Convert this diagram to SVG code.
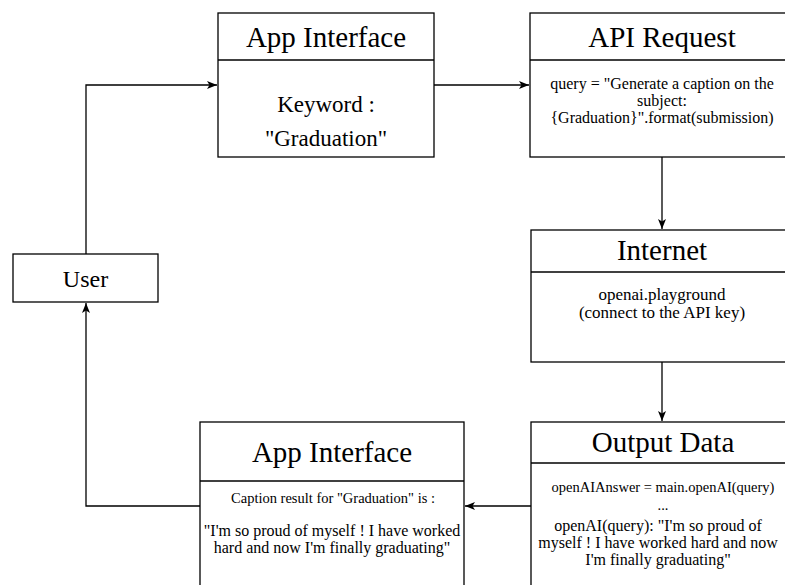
<svg xmlns="http://www.w3.org/2000/svg" width="785" height="585" viewBox="0 0 785 585">
<defs>
<marker id="arr" markerWidth="12" markerHeight="10" refX="10" refY="4" orient="auto" markerUnits="userSpaceOnUse">
<path d="M0,0 L10,4 L0,8 L2.5,4 Z" fill="#000"/>
</marker>
<style>
.box{fill:#fff;stroke:#000;stroke-width:1.3}
.div{stroke:#000;stroke-width:1.3}
.hd{font-family:"Liberation Serif","Times New Roman",serif;font-size:29px;text-anchor:middle;fill:#000}
.tx{font-family:"Liberation Serif","Times New Roman",serif;text-anchor:middle;fill:#000}
.cn{fill:none;stroke:#000;stroke-width:1.3;marker-end:url(#arr)}
</style>
</defs>
<rect width="785" height="585" fill="#fff"/>
<g id="connectors">
<path class="cn" d="M86,254 L86,85 L217,85"/>
<path class="cn" d="M434,85 L529,85"/>
<path class="cn" d="M662,157 L662,229"/>
<path class="cn" d="M662,362 L662,421"/>
<path class="cn" d="M531,506 L465,506"/>
<path class="cn" d="M200,506 L86,506 L86,303"/>
</g>
<g id="user">
<rect class="box" x="13" y="254" width="145" height="48"/>
<text class="tx" x="85.5" y="287" font-size="24">User</text>
</g>
<g id="app-interface-top">
<rect class="box" x="218" y="13" width="216" height="144"/>
<line class="div" x1="218" y1="60" x2="434" y2="60"/>
<text class="hd" x="326" y="47">App Interface</text>
<text class="tx" x="326" y="112" font-size="23">Keyword :</text>
<text class="tx" x="326" y="146" font-size="23">"Graduation"</text>
</g>
<g id="api-request">
<rect class="box" x="530" y="13" width="264" height="144"/>
<line class="div" x1="530" y1="60" x2="794" y2="60"/>
<text class="hd" x="662" y="47">API Request</text>
<text class="tx" font-size="16"><tspan x="662" y="89">query = "Generate a caption on the</tspan><tspan x="662" y="106">subject:</tspan><tspan x="662" y="123">{Graduation}".format(submission)</tspan></text>
</g>
<g id="internet">
<rect class="box" x="531" y="230" width="264" height="132"/>
<line class="div" x1="531" y1="272" x2="795" y2="272"/>
<text class="hd" x="662" y="260">Internet</text>
<text class="tx" font-size="17"><tspan x="662" y="300">openai.playground</tspan><tspan x="662" y="318">(connect to the API key)</tspan></text>
</g>
<g id="output-data">
<rect class="box" x="531" y="422" width="264" height="180"/>
<line class="div" x1="531" y1="463" x2="795" y2="463"/>
<text class="hd" x="663" y="452">Output Data</text>
<text class="tx" x="663" y="492" font-size="14.5">openAIAnswer = main.openAI(query)</text>
<text class="tx" x="663" y="510" font-size="14.5">...</text>
<text class="tx" font-size="16"><tspan x="658" y="531">openAI(query): "I'm so proud of</tspan><tspan x="658" y="548">myself ! I have worked hard and now</tspan><tspan x="658" y="565">I'm finally graduating"</tspan></text>
</g>
<g id="app-interface-bottom">
<rect class="box" x="200" y="422" width="264" height="180"/>
<line class="div" x1="200" y1="481" x2="464" y2="481"/>
<text class="hd" x="332" y="462">App Interface</text>
<text class="tx" x="333" y="503" font-size="14.5">Caption result for "Graduation" is :</text>
<text class="tx" font-size="16"><tspan x="332" y="536">"I'm so proud of myself ! I have worked</tspan><tspan x="332" y="553">hard and now I'm finally graduating"</tspan></text>
</g>
</svg>
